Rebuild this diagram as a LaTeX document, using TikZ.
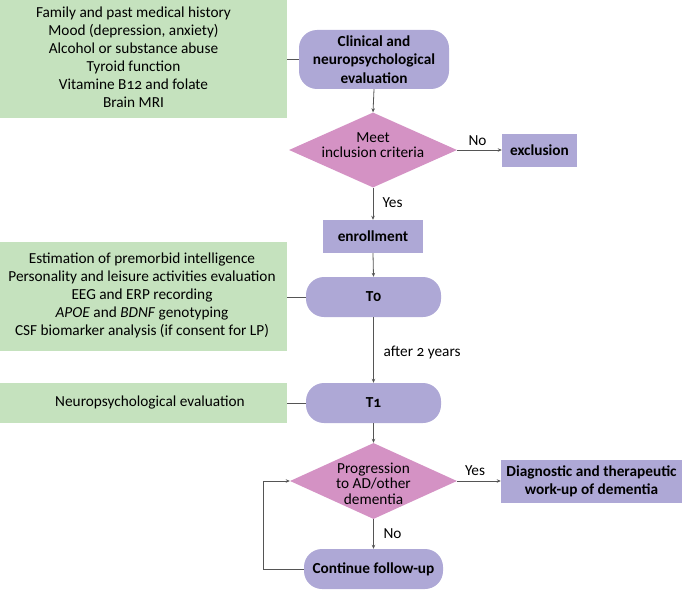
\documentclass[tikz,border=0pt]{standalone}
\usepackage{fontspec}
\setmainfont[Numbers=OldStyle]{Carlito}
\usetikzlibrary{shapes.geometric,arrows.meta}
\definecolor{gbox}{RGB}{197,226,190}
\definecolor{pbox}{RGB}{174,168,214}
\definecolor{dbox}{RGB}{212,146,196}
\definecolor{lcol}{RGB}{85,85,85}
\tikzset{
  every node/.style={font=\fontsize{15.3}{18}\selectfont},
  greenbox/.style={rectangle, fill=gbox, draw=none, inner sep=0pt},
  roundbox/.style={rectangle, rounded corners=18pt, fill=pbox, draw=none, inner sep=0pt, align=center, font=\fontsize{15.3}{18.5}\selectfont\bfseries},
  sqbox/.style={rectangle, fill=pbox, draw=none, inner sep=0pt, align=center, font=\fontsize{15.3}{18.5}\selectfont\bfseries},
  decision/.style={diamond, fill=dbox, draw=none, inner sep=0pt},
  dtext/.style={align=center, inner sep=0pt, font=\fontsize{15.3}{15.5}\selectfont},
  gtext/.style={align=center, inner sep=0pt},
  lbl/.style={inner sep=0pt},
  conn/.style={draw=lcol, line width=0.8pt},
  arr/.style={conn, -{Stealth[length=4pt,width=3.5pt]}}
}
\begin{document}
\begin{tikzpicture}[x=1pt,y=-1pt]
\useasboundingbox (0,0) rectangle (682,591);
% green boxes
\node[greenbox, minimum width=287, minimum height=118] (g1) at (143.5,59) {};
\node[gtext] (g1t) at (133.5,57) {Family and past medical history\\Mood (depression, anxiety)\\Alcohol or substance abuse\\Tyroid function\\Vitamine B12 and folate\\Brain MRI};
\node[greenbox, minimum width=287, minimum height=109] (g2) at (143.5,296.5) {};
\node[gtext] (g2t) at (142,295.5) {Estimation of premorbid intelligence\\Personality and leisure activities evaluation\\EEG and ERP recording\\\textit{APOE} and \textit{BDNF} genotyping\\CSF biomarker analysis (if consent for LP)};
\node[greenbox, minimum width=287, minimum height=40] (g3) at (143.5,403) {};
\node[gtext] (g3t) at (150,402) {Neuropsychological evaluation};
% flow nodes
\node[roundbox, minimum width=150, minimum height=59] (clin) at (374,59.5) {Clinical and\\neuropsychological\\evaluation};
\node[decision, minimum width=168, minimum height=75] (d1) at (373,150) {};
\node[dtext] (d1t) at (373,145) {Meet\\inclusion criteria};
\node[sqbox, minimum width=75, minimum height=33] (excl) at (539.5,150.5) {exclusion};
\node[sqbox, minimum width=100, minimum height=33] (enr) at (373,236.5) {enrollment};
\node[roundbox, minimum width=135, minimum height=40] (t0) at (373.5,297) {T0};
\node[roundbox, minimum width=135, minimum height=40] (t1) at (373.5,403) {T1};
\node[decision, minimum width=167, minimum height=76] (d2) at (373.5,481) {};
\node[dtext] (d2t) at (373.5,483.5) {Progression\\to AD/other\\dementia};
\node[sqbox, minimum width=181, minimum height=43] (diag) at (591.5,481.5) {Diagnostic and therapeutic\\work-up of dementia};
\node[roundbox, minimum width=139, minimum height=40] (cont) at (373.5,569) {Continue follow-up};
% labels
\node[lbl] (lno1) at (477.5,141) {No};
\node[lbl] (lyes1) at (392.5,203) {Yes};
\node[lbl, anchor=west] (lafter) at (383.5,352) {after 2 years};
\node[lbl] (lyes2) at (475,471) {Yes};
\node[lbl] (lno2) at (392.5,534) {No};
\coordinate (lp) at (263,569);
% connectors
\draw[conn] (g1.east |- clin.west) -- (clin.west);
\draw[conn] (g2.east |- t0.west) -- (t0.west);
\draw[conn] (g3.east |- t1.west) -- (t1.west);
\draw[arr] (clin.south) -- (d1.north);
\draw[arr] (d1.east) -- (excl.west |- d1.east);
\draw[arr] (d1.south) -- (enr.north);
\draw[arr] (enr.south) -- (t0.north);
\draw[arr] (t0.south) -- (t1.north);
\draw[arr] (t1.south) -- (d2.north);
\draw[arr] (d2.east) -- (diag.west |- d2.east);
\draw[arr] (d2.south) -- (cont.north);
\draw[arr] (cont.west) -- (lp) -- (lp |- d2.west) -- (d2.west);
\end{tikzpicture}
\end{document}
